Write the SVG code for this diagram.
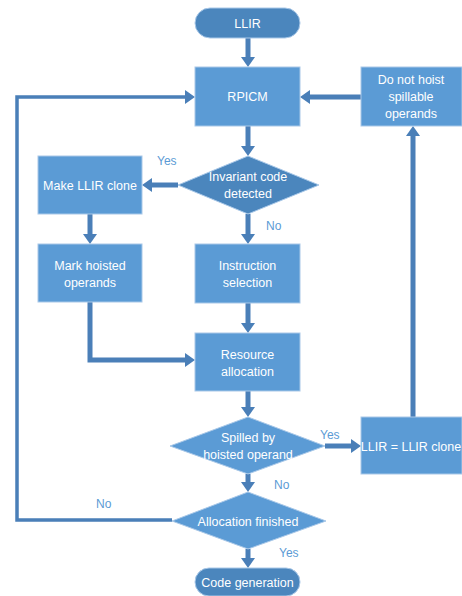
<svg xmlns="http://www.w3.org/2000/svg" width="462" height="596" viewBox="0 0 462 596">
<style>
.box{fill:#5b9bd5;stroke:#a9c8e8;stroke-width:1}
.dark{fill:#4b86bd;stroke:#a9c8e8;stroke-width:1}
.t{font-family:"Liberation Sans",Arial,sans-serif;font-size:12.5px;fill:#ffffff;text-anchor:middle}
.lbl{font-family:"Liberation Sans",Arial,sans-serif;font-size:12px;fill:#5b9bd5}
.c{fill:none;stroke:#4a7fb8;stroke-width:5}
.loop{fill:none;stroke:#4a7fb8;stroke-width:3.5}
</style>
<defs>
<marker id="ah" markerUnits="userSpaceOnUse" markerWidth="10" markerHeight="14" refX="0" refY="7" orient="auto">
<path d="M0,0 L10,7 L0,14 z" fill="#4a7fb8"/>
</marker>
</defs>
<rect width="462" height="596" fill="#ffffff"/>
<g id="connectors">
<line class="c" x1="248" y1="38" x2="248" y2="57" marker-end="url(#ah)"/>
<line class="c" x1="248" y1="126" x2="248" y2="146" marker-end="url(#ah)"/>
<line class="c" x1="178" y1="185" x2="152" y2="185" marker-end="url(#ah)"/>
<line class="c" x1="90" y1="214" x2="90" y2="234" marker-end="url(#ah)"/>
<line class="c" x1="248" y1="214" x2="248" y2="234" marker-end="url(#ah)"/>
<line class="c" x1="248" y1="303" x2="248" y2="323" marker-end="url(#ah)"/>
<polyline class="c" points="90,302 90,360 185,360" marker-end="url(#ah)"/>
<line class="c" x1="248" y1="391" x2="248" y2="407" marker-end="url(#ah)"/>
<line class="c" x1="325" y1="446" x2="351" y2="446" marker-end="url(#ah)"/>
<line class="c" x1="413" y1="417" x2="413" y2="136" marker-end="url(#ah)"/>
<line class="c" x1="361" y1="97" x2="310" y2="97" marker-end="url(#ah)"/>
<line class="c" x1="248" y1="474" x2="248" y2="482" marker-end="url(#ah)"/>
<line class="c" x1="248" y1="549" x2="248" y2="558" marker-end="url(#ah)"/>
<polyline class="loop" points="172,520 17,520 17,97 185,97" marker-end="url(#ah)"/>
<text class="lbl" x="157" y="165">Yes</text>
<text class="lbl" x="266" y="230">No</text>
<text class="lbl" x="320" y="439">Yes</text>
<text class="lbl" x="274" y="489">No</text>
<text class="lbl" x="96" y="508">No</text>
<text class="lbl" x="279" y="557">Yes</text>
</g>
<g id="llir">
<rect class="dark" x="195" y="8" width="105" height="30" rx="15"/>
<text class="t" x="247.5" y="27.5">LLIR</text>
</g>
<g id="rpicm">
<rect class="box" x="195" y="67" width="105" height="59"/>
<text class="t" x="247.5" y="101">RPICM</text>
</g>
<g id="donothoist">
<rect class="box" x="361" y="67" width="101" height="59"/>
<text class="t" x="411" y="84">Do not hoist</text>
<text class="t" x="411" y="101">spillable</text>
<text class="t" x="411" y="118">operands</text>
</g>
<g id="invariant">
<polygon class="dark" points="248,156 319,185 248,214 178,185"/>
<text class="t" x="248" y="181">Invariant code</text>
<text class="t" x="248" y="198">detected</text>
</g>
<g id="makeclone">
<rect class="box" x="38" y="156" width="104" height="58"/>
<text class="t" x="90" y="189.5">Make LLIR clone</text>
</g>
<g id="markhoisted">
<rect class="box" x="38" y="244" width="104" height="58"/>
<text class="t" x="90" y="270">Mark hoisted</text>
<text class="t" x="90" y="287">operands</text>
</g>
<g id="instrsel">
<rect class="box" x="195" y="244" width="105" height="59"/>
<text class="t" x="247.5" y="270">Instruction</text>
<text class="t" x="247.5" y="287">selection</text>
</g>
<g id="resalloc">
<rect class="box" x="195" y="333" width="105" height="58"/>
<text class="t" x="247.5" y="359">Resource</text>
<text class="t" x="247.5" y="376">allocation</text>
</g>
<g id="spilled">
<polygon class="box" points="248,417 325,446 248,474 170,446"/>
<text class="t" x="248" y="442">Spilled by</text>
<text class="t" x="248" y="459">hoisted operand</text>
</g>
<g id="llirclone">
<rect class="box" x="361" y="417" width="101" height="57"/>
<text class="t" x="411" y="450.5">LLIR = LLIR clone</text>
</g>
<g id="allocfinished">
<polygon class="box" points="248,492 326,521 248,549 172,521"/>
<text class="t" x="248" y="525.5">Allocation finished</text>
</g>
<g id="codegen">
<rect class="dark" x="195" y="568" width="105" height="28" rx="14"/>
<text class="t" x="247.5" y="586.5">Code generation</text>
</g>
</svg>
